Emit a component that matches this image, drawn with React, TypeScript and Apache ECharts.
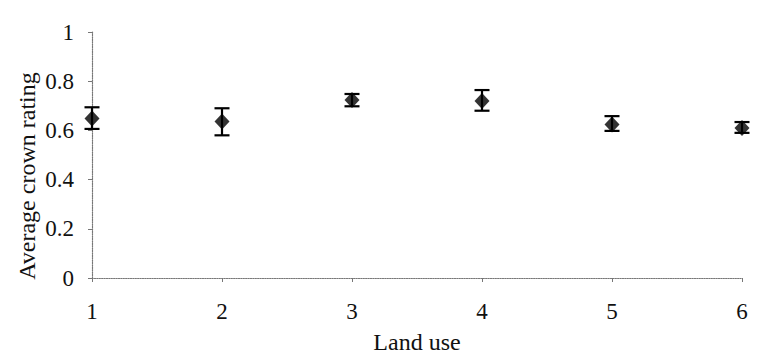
import React, { useEffect, useRef } from "react";
import * as echarts from "echarts";

const landUse = [1, 2, 3, 4, 5, 6];
const meanRating = [0.648, 0.636, 0.724, 0.72, 0.624, 0.61];
const lowerBound = [0.606, 0.58, 0.698, 0.68, 0.598, 0.59];
const upperBound = [0.694, 0.69, 0.748, 0.764, 0.658, 0.634];
const yTicks = [0, 0.2, 0.4, 0.6, 0.8, 1];
const xTitle = "Land use";
const yTitle = "Average crown rating";

const FONT = "'Liberation Serif', 'DejaVu Serif', serif";

export default function App() {
  const ref = useRef<HTMLDivElement>(null);
  useEffect(() => {
    if (!ref.current) return;
    const chart = echarts.init(ref.current, undefined, { renderer: "svg" });
    const errData = landUse.map((x, i) => [x, lowerBound[i], upperBound[i]]);
    chart.setOption({
      animation: false,
      grid: { left: 92, right: 19, top: 32, bottom: 77 },
      graphic: [
        {
          type: "text",
          x: 27,
          y: 176,
          rotation: Math.PI / 2,
          style: {
            text: yTitle,
            fontFamily: FONT,
            fontSize: 24,
            fill: "#111",
            align: "center",
            verticalAlign: "middle",
          },
        },
      ],
      xAxis: {
        type: "value",
        min: 1,
        max: 6,
        interval: 1,
        name: xTitle,
        nameLocation: "middle",
        nameGap: 52,
        nameTextStyle: { fontFamily: FONT, fontSize: 24, color: "#111" },
        axisLine: { show: true, lineStyle: { color: "#777", type: "dotted", width: 1.2 } },
        axisTick: { show: true, length: 4, lineStyle: { color: "#777" } },
        axisLabel: { fontFamily: FONT, fontSize: 23, color: "#111", margin: 22 },
        splitLine: { show: false },
      },
      yAxis: {
        type: "value",
        min: 0,
        max: 1,
        interval: 0.2,
        axisLine: { show: true, lineStyle: { color: "#777", type: "dotted", width: 1.2 } },
        axisTick: { show: true, length: 4, lineStyle: { color: "#777" } },
        axisLabel: {
          fontFamily: FONT,
          fontSize: 23,
          color: "#111",
          margin: 18,
          formatter: (v: number) => (yTicks.includes(Math.round(v * 10) / 10) ? String(Math.round(v * 10) / 10) : ""),
        },
        splitLine: { show: false },
      },
      series: [
        {
          type: "custom",
          data: errData,
          encode: { x: 0, y: [1, 2] },
          z: 2,
          renderItem: (params: any, api: any) => {
            const x = api.value(0);
            const lo = api.coord([x, api.value(1)]);
            const hi = api.coord([x, api.value(2)]);
            const hw = 7.5;
            const style = { stroke: "#000", lineWidth: 2.2 };
            return {
              type: "group",
              children: [
                { type: "line", shape: { x1: lo[0], y1: lo[1], x2: hi[0], y2: hi[1] }, style },
                { type: "line", shape: { x1: lo[0] - hw, y1: lo[1], x2: lo[0] + hw, y2: lo[1] }, style },
                { type: "line", shape: { x1: hi[0] - hw, y1: hi[1], x2: hi[0] + hw, y2: hi[1] }, style },
              ],
            };
          },
        },
        {
          type: "scatter",
          data: landUse.map((x, i) => [x, meanRating[i]]),
          symbol: "diamond",
          symbolSize: [15, 16],
          itemStyle: { color: "#000" },
          z: 3,
        },
      ],
    });
    return () => chart.dispose();
  }, []);
  return <div ref={ref} style={{ width: 761, height: 359, position: "absolute", left: 0, top: 0, background: "#fff" }} />;
}
